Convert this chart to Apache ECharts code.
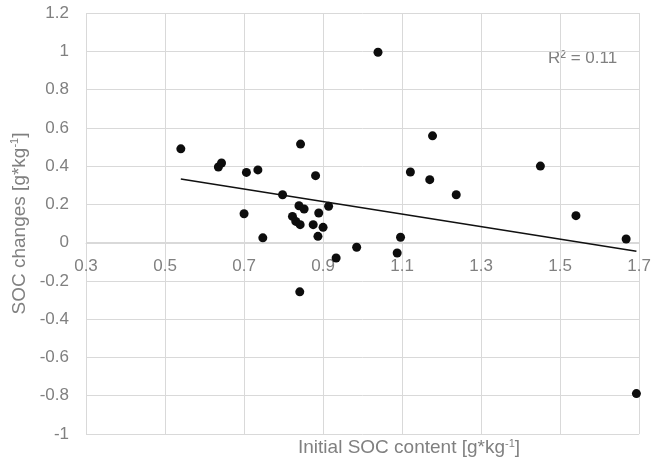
<!DOCTYPE html>
<html>
<head>
<meta charset="utf-8">
<script src="https://cdn.jsdelivr.net/npm/echarts@6/dist/echarts.min.js"></script>
<style>html,body{margin:0;padding:0;background:#fff}#c{width:654px;height:463px}</style>
</head>
<body>
<div id="c"></div>
<script>
var initialSOC = [0.54,0.635,0.643,0.706,0.735,0.7975,0.70,0.7475,0.843,0.8225,0.831,0.842,0.839,0.852,0.881,0.889,0.914,0.875,0.90,0.887,0.933,0.985,1.096,1.0875,1.121,1.17,1.177,1.237,1.45,1.54,1.667,1.039,1.693,0.841];
var socChanges = [0.49,0.395,0.416,0.367,0.38,0.25,0.151,0.025,0.515,0.137,0.111,0.094,0.193,0.176,0.35,0.155,0.19,0.094,0.08,0.033,-0.08,-0.024,0.028,-0.054,0.369,0.329,0.558,0.25,0.40,0.141,0.019,0.995,-0.789,-0.257];
var trendX = [0.54, 1.693];
var trendY = [0.332, -0.045];
var rSquaredText = 'R² = 0.11';

var points = initialSOC.map(function(x, i){ return [x, socChanges[i]]; });
var trend = trendX.map(function(x, i){ return [x, trendY[i]]; });

var FONT = 'Liberation Sans, Arial, sans-serif';
var TXT = '#808080';
var GRID = '#d9d9d9';

var chart = echarts.init(document.getElementById('c'), null, {renderer:'canvas'});
chart.setOption({
  animation: false,
  grid: {left: 86, right: 9, top: 13, bottom: 29, containLabel: false},
  xAxis: {
    type: 'value', min: 0.3, max: 1.7, interval: 0.2,
    offset: -191,
    axisLine: {show: true, onZero: false, lineStyle: {color: GRID, width: 1}},
    axisTick: {show: false},
    splitLine: {show: true, lineStyle: {color: GRID, width: 1}},
    axisLabel: {color: TXT, fontSize: 17, fontFamily: FONT, margin: 15, showMinLabel: true, showMaxLabel: true}
  },
  yAxis: {
    type: 'value', min: -1, max: 1.2, interval: 0.2,
    axisLine: {show: false},
    axisTick: {show: false},
    splitLine: {show: true, lineStyle: {color: GRID, width: 1}},
    axisLabel: {color: TXT, fontSize: 17, fontFamily: FONT, margin: 17},
    name: 'SOC changes [g*kg{sup|-1}]',
    nameLocation: 'middle', nameGap: 56, nameRotate: 90,
    nameTextStyle: {color: TXT, fontSize: 19, fontFamily: FONT,
      rich: {sup: {fontSize: 11, color: TXT, fontFamily: FONT, padding: [0,0,9,0]}}}
  },
  graphic: [
    {type: 'text', left: 298, top: 438, style: {text: 'Initial SOC content [g*kg{sup|-1}]', fill: TXT, fontSize: 19, fontFamily: FONT,
      rich: {sup: {fontSize: 11, fill: TXT, fontFamily: FONT, padding: [0,0,9,0]}}}},
    {type: 'text', left: 548, top: 50, style: {text: rSquaredText, fill: TXT, fontSize: 17, fontFamily: FONT}}
  ],
  series: [
    {type: 'scatter', data: points, symbolSize: 9, itemStyle: {color: '#0d0d0d', opacity: 1}, z: 3},
    {type: 'line', data: trend, symbol: 'none', lineStyle: {color: '#111', width: 1.5}, z: 2}
  ]
});
</script>
</body>
</html>
